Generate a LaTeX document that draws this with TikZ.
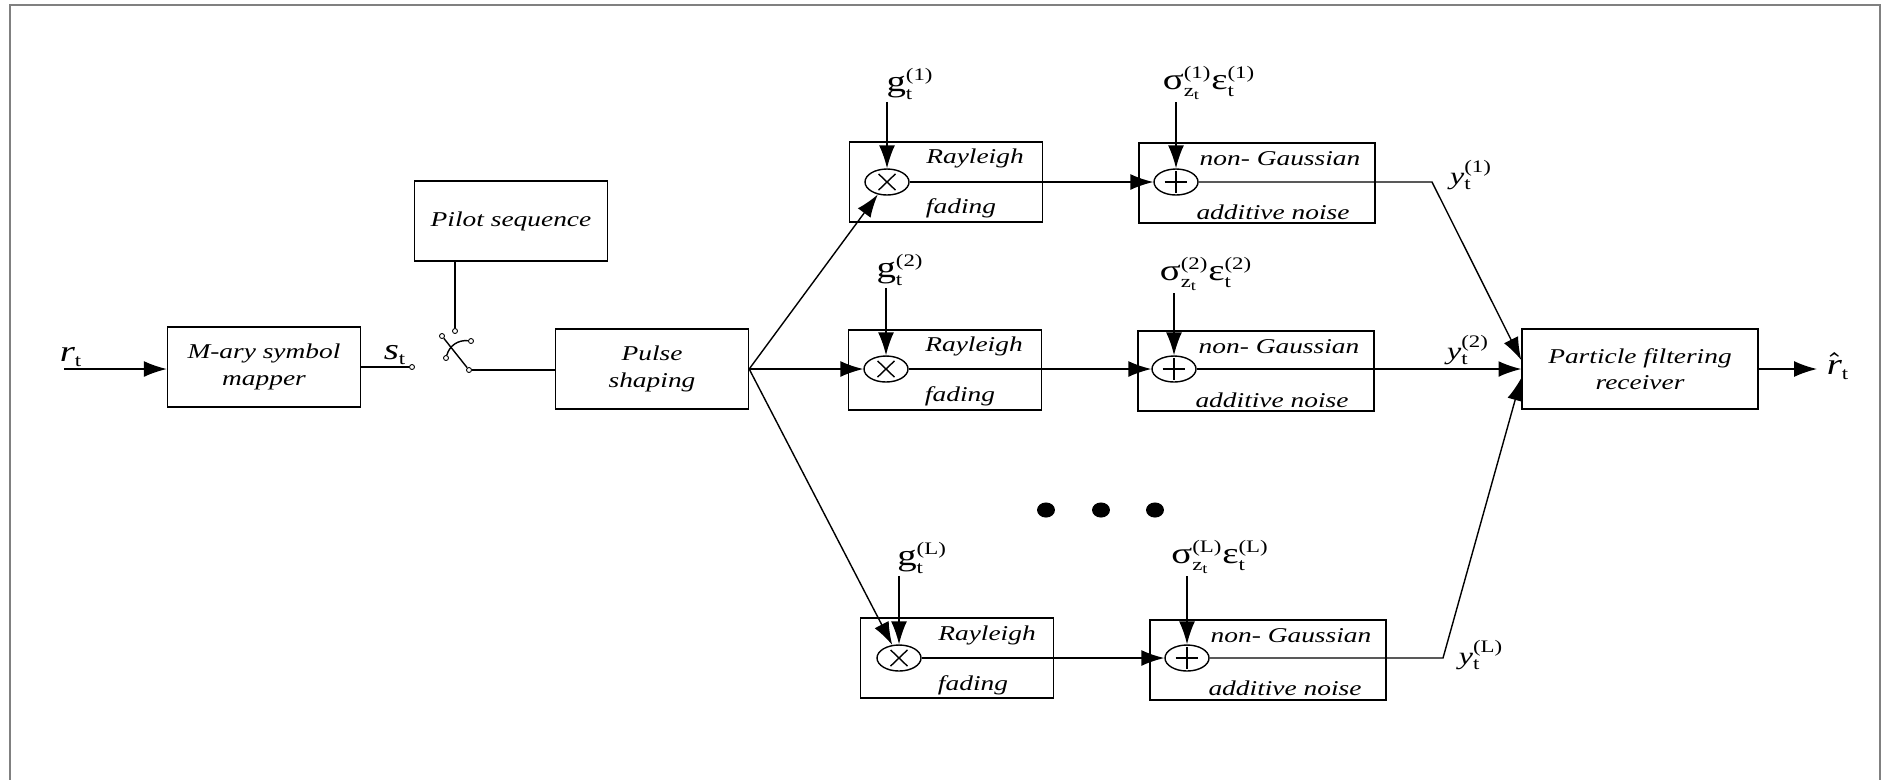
\documentclass[tikz,border=0pt]{standalone}
\usepackage{amsmath}
\usepackage{fontspec}
\setmainfont{Liberation Serif}[FakeStretch=1.3]
\usetikzlibrary{arrows.meta,shapes.geometric}
\newcommand{\smtxt}[1]{\text{\fontsize{10}{10}\selectfont #1}}
\newcommand{\zsub}{\smtxt{z}_{\text{\fontsize{8}{8}\selectfont t}}}

\begin{document}
\begin{tikzpicture}[x=0.02cm, y=-0.02cm, line width=0.8pt,
  >={Latex[length=13pt,width=9pt]},
  box/.style={draw, rectangle, minimum width=3.86cm, minimum height=1.6cm,
    inner sep=0pt, align=center, font=\fontsize{12}{15}\selectfont\itshape},
  wbox/.style={box, minimum width=4.72cm},
  txt/.style={inner sep=0pt, font=\fontsize{12}{15}\selectfont\itshape},
  lbl/.style={inner sep=1pt, font=\fontsize{17}{17}\selectfont},
  ylbl/.style={inner sep=1pt, font=\fontsize{14}{14}\selectfont},
  term/.style={circle, draw, line width=0.5pt, inner sep=0pt, minimum size=0.1cm},
  mul/.style={ellipse, draw, fill=white, minimum width=0.88cm, minimum height=0.52cm,
    inner sep=0pt, path picture={
      \draw ([shift={(-4.8pt,-4.6pt)}]path picture bounding box.center) -- ++(9.6pt,9.2pt)
            ([shift={(-4.8pt,4.6pt)}]path picture bounding box.center) -- ++(9.6pt,-9.2pt);}},
  add/.style={ellipse, draw, fill=white, minimum width=0.88cm, minimum height=0.52cm,
    inner sep=0pt, path picture={
      \draw ([xshift=-6.5pt]path picture bounding box.center) -- ++(13pt,0pt)
            ([yshift=-6pt]path picture bounding box.center) -- ++(0pt,12pt);}}]
  \useasboundingbox (0,0) rectangle (1885,779);
  % Frame.
  \draw[black!50, line width=1.2pt] (10,5) rectangle (1880,800);

  % Transmitter.
  \coordinate (in) at (64,369);
  \node[lbl] (rt) at (71,357) {$\text{\itshape r}_{\smtxt{t}}$};
  \node[box] (map) at (264,367) {M-ary symbol\\mapper};
  \node[lbl] (st) at (395,355) {$\text{\itshape s}_{\smtxt{t}}$};
  \node[term] (t0) at (412,367) {};
  \node[box] (pil) at (511,221) {Pilot sequence};
  \node[term] (se) at (455,331) {};
  \node[term] (sa) at (442,336) {};
  \node[term] (sd) at (471,341) {};
  \node[term] (sc) at (446,358) {};
  \node[term] (sb) at (469,370) {};
  \node[box] (pul) at (652,369) {Pulse\\shaping};

  \draw[->] (in) -- (in -| map.west);
  \draw (map.east |- t0) -- (t0);
  \draw (pil.south -| se) -- (se);
  \draw (sa) -- (sb);
  \draw (sc) to[bend left=40] (sd);
  \draw (sb) -- (sb -| pul.west);

  % Branch 1.
  \node[box] (rb1) at (946,182) {};
  \node[mul] (mul1) at (887,182) {};
  \node[txt] (ray1) at (975,158) {Rayleigh};
  \node[txt] (fad1) at (961,208) {fading};
  \node[wbox] (nb1) at (1257,183) {};
  \node[add] (add1) at (1176,182) {};
  \node[txt] (ng1) at (1280,159) {non- Gaussian};
  \node[txt] (an1) at (1273,212) {additive noise};
  \node[lbl] (g1) at (910,84) {$\text{g}_{\smtxt{t}}^{\smtxt{(1)}}$};
  \node[lbl] (s1) at (1209,83) {$\text{σ}_{\zsub}^{\smtxt{(1)}}\text{ε}_{\smtxt{t}}^{\smtxt{(1)}}$};
  \coordinate (c1) at (1432,182);
  \node[ylbl] (y1) at (1471,175) {$\text{\itshape y}_{\smtxt{t}}^{\smtxt{(1)}}$};

  % Branch 2.
  \node[box] (rb2) at (945,370) {};
  \node[mul] (mul2) at (886,369) {};
  \node[txt] (ray2) at (974,346) {Rayleigh};
  \node[txt] (fad2) at (960,396) {fading};
  \node[wbox] (nb2) at (1256,371) {};
  \node[add] (add2) at (1174,369) {};
  \node[txt] (ng2) at (1279,347) {non- Gaussian};
  \node[txt] (an2) at (1272,400) {additive noise};
  \node[lbl] (g2) at (900,270) {$\text{g}_{\smtxt{t}}^{\smtxt{(2)}}$};
  \node[lbl] (s2) at (1206,274) {$\text{σ}_{\zsub}^{\smtxt{(2)}}\text{ε}_{\smtxt{t}}^{\smtxt{(2)}}$};
  \node[ylbl] (y2) at (1468,350) {$\text{\itshape y}_{\smtxt{t}}^{\smtxt{(2)}}$};

  % Branch L.
  \node[box] (rbL) at (957,658) {};
  \node[mul] (mulL) at (899,658) {};
  \node[txt] (rayL) at (987,635) {Rayleigh};
  \node[txt] (fadL) at (973,685) {fading};
  \node[wbox] (nbL) at (1268,660) {};
  \node[add] (addL) at (1187,658) {};
  \node[txt] (ngL) at (1291,636) {non- Gaussian};
  \node[txt] (anL) at (1285,688) {additive noise};
  \node[lbl] (gL) at (922,558) {$\text{g}_{\smtxt{t}}^{\smtxt{(L)}}$};
  \node[lbl] (sL) at (1220,557) {$\text{σ}_{\zsub}^{\smtxt{(L)}}\text{ε}_{\smtxt{t}}^{\smtxt{(L)}}$};
  \coordinate (cL) at (1443,658);
  \node[ylbl] (yL) at (1481,655) {$\text{\itshape y}_{\smtxt{t}}^{\smtxt{(L)}}$};

  % Dots.
  \fill (1046,510) ellipse [x radius=5.1pt, y radius=4.3pt];
  \fill (1101,510) ellipse [x radius=5.1pt, y radius=4.3pt];
  \fill (1155,510) ellipse [x radius=5.1pt, y radius=4.3pt];

  % Receiver.
  \node[wbox] (rcv) at (1640,369) {Particle filtering\\receiver};
  \coordinate (out) at (1817,369);
  \node[lbl] (rh) at (1838,366) {$\boldsymbol{\hat{\text{\itshape r}}}_{\smtxt{t}}$};

  % Connections.
  \draw[->] (pul.east) -- (mul1);
  \draw[->] (pul.east) -- (mul2);
  \draw[->] (pul.east) -- (mulL);
  \draw[->] (mul1 |- g1.south) -- (mul1.north);
  \draw[->] (mul2 |- g2.south) -- (mul2.north);
  \draw[->] (mulL |- gL.south) -- (mulL.north);
  \draw[->] (add1 |- s1.south) -- (add1.north);
  \draw[->] (add2 |- s2.south) -- (add2.north);
  \draw[->] (addL |- sL.south) -- (addL.north);
  \draw[->] (mul1) -- (add1);
  \draw[->] (mul2) -- (add2);
  \draw[->] (mulL) -- (addL);
  \draw[->] (add1) -- (c1) -- ([yshift=5pt]rcv.west);
  \draw[->] (add2) -- (rcv.west);
  \draw[->] (addL) -- (cL) -- ([yshift=-5pt]rcv.west);
  \draw[->] (rcv.east) -- (out);
\end{tikzpicture}
\end{document}
